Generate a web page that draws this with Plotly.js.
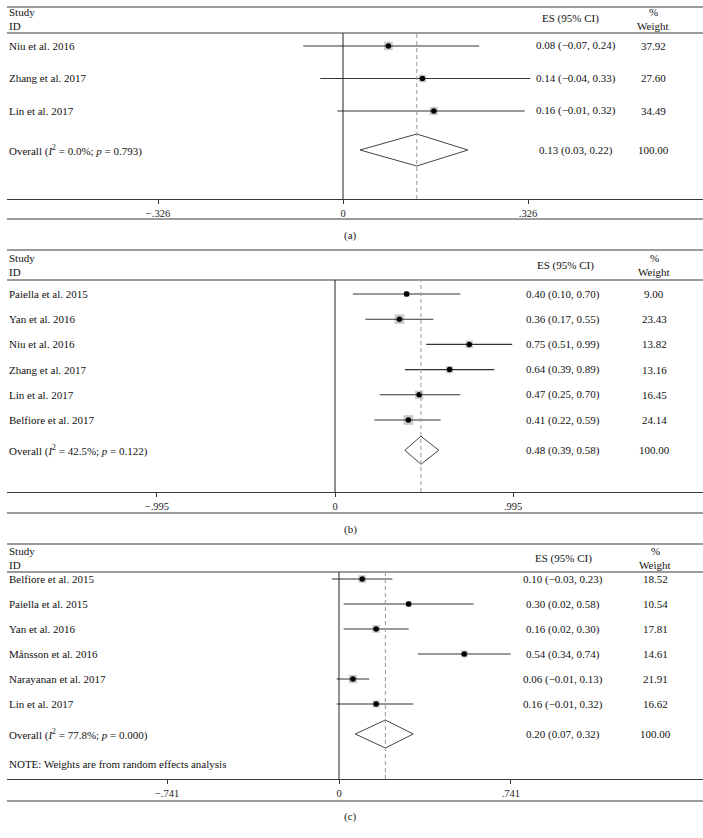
<!DOCTYPE html>
<html><head><meta charset="utf-8">
<script src="https://cdn.plot.ly/plotly-3.0.1.min.js"></script>
<style>html,body{margin:0;padding:0;background:#fff}#chart{width:703px;height:838px}</style>
</head><body><div id="chart"></div>
<script>
// ---------- DATA ----------
// Panel (a)
const studiesA = ['Niu et al. 2016', 'Zhang et al. 2017', 'Lin et al. 2017'];
const esA = [0.08, 0.14, 0.16];
const loA = [-0.07, -0.04, -0.01];
const hiA = [0.24, 0.33, 0.32];
const weightA = [37.92, 27.60, 34.49];
const overallA = [0.13, 0.03, 0.22];   // ES, lower, upper
const i2A = '0.0', pA = '0.793';
const tickValsA = [-0.326, 0, 0.326];
const tickTextA = ['\u2212.326', '0', '.326'];

// Panel (b)
const studiesB = ['Paiella et al. 2015', 'Yan et al. 2016', 'Niu et al. 2016', 'Zhang et al. 2017', 'Lin et al. 2017', 'Belfiore et al. 2017'];
const esB = [0.40, 0.36, 0.75, 0.64, 0.47, 0.41];
const loB = [0.10, 0.17, 0.51, 0.39, 0.25, 0.22];
const hiB = [0.70, 0.55, 0.99, 0.89, 0.70, 0.59];
const weightB = [9.00, 23.43, 13.82, 13.16, 16.45, 24.14];
const overallB = [0.48, 0.39, 0.58];
const i2B = '42.5', pB = '0.122';
const tickValsB = [-0.995, 0, 0.995];
const tickTextB = ['\u2212.995', '0', '.995'];

// Panel (c)
const studiesC = ['Belfiore et al. 2015', 'Paiella et al. 2015', 'Yan et al. 2016', 'M\u00e5nsson et al. 2016', 'Narayanan et al. 2017', 'Lin et al. 2017'];
const esC = [0.10, 0.30, 0.16, 0.54, 0.06, 0.16];
const loC = [-0.03, 0.02, 0.02, 0.34, -0.01, -0.01];
const hiC = [0.23, 0.58, 0.30, 0.74, 0.13, 0.32];
const weightC = [18.52, 10.54, 17.81, 14.61, 21.91, 16.62];
const overallC = [0.20, 0.07, 0.32];
const i2C = '77.8', pC = '0.000';
const tickValsC = [-0.741, 0, 0.741];
const tickTextC = ['\u2212.741', '0', '.741'];

const overallWeight = 100.00;
const noteC = 'NOTE: Weights are from random effects analysis';

// ---------- LAYOUT ----------
const W = 703, H = 838;
const FONT = 'Liberation Serif, Times New Roman, serif';
const LINE = '#3a3a3a';
const PX = x => x / W;
const PY = y => 1 - y / H;
const fmt = v => (v < 0 ? '\u2212' : '') + Math.abs(v).toFixed(2);

const panels = [
  {studies: studiesA, es: esA, lo: loA, hi: hiA, w: weightA, ov: overallA, i2: i2A, p: pA, tv: tickValsA, tt: tickTextA, label: '(a)',
   g: {top: 7, header: 33, axis: 199, bottom: 219, label: 235, row0: 46, step: 32.5, zero: 343, scale: 567.5, study: 12, id: 26, esX: 576, esHX: 570, wX: 653, dh: 16, sq: 1.4}},
  {studies: studiesB, es: esB, lo: loB, hi: hiB, w: weightB, ov: overallB, i2: i2B, p: pB, tv: tickValsB, tt: tickTextB, label: '(b)',
   g: {top: 250, header: 280, axis: 492, bottom: 513, label: 529, row0: 294, step: 25.2, zero: 335, scale: 179, study: 258, id: 272, esX: 563, esHX: 565, wX: 654, dh: 14, sq: 2.0}},
  {studies: studiesC, es: esC, lo: loC, hi: hiC, w: weightC, ov: overallC, i2: i2C, p: pC, tv: tickValsC, tt: tickTextC, label: '(c)', note: noteC,
   g: {top: 544, header: 572, axis: 779, bottom: 801, label: 816, row0: 579, step: 25, zero: 339, scale: 232, study: 551, id: 565, esX: 563, esHX: 563, wX: 655, dh: 14, sq: 1.8, noteY: 764}}
];

const traces = [], shapes = [], annotations = [];
const layout = {
  width: W, height: H, margin: {l: 0, r: 0, t: 0, b: 0, pad: 0},
  paper_bgcolor: '#fff', plot_bgcolor: 'rgba(0,0,0,0)', showlegend: false,
  font: {family: FONT, size: 11, color: '#111'}
};

const txt = (text, x, y, xref, yref, xanchor, extra) => Object.assign({
  text, x, y, xref, yref, xanchor, yanchor: 'middle', showarrow: false,
  font: {family: FONT, size: 11, color: '#111'}
}, extra || {});

panels.forEach((pn, k) => {
  const s = k === 0 ? '' : String(k + 1);
  const xa = 'x' + s, ya = 'y' + s;
  const g = pn.g;
  const n = pn.studies.length;
  const rows = pn.studies.map((_, i) => i);
  const ovRow = n + 0.2;

  layout['xaxis' + s] = {
    domain: [PX(7), 1], anchor: ya,
    range: [(7 - g.zero) / g.scale, (W - g.zero) / g.scale],
    showgrid: false, zeroline: false, showline: true, linecolor: LINE, linewidth: 1.2,
    ticks: 'outside', ticklen: 4, tickwidth: 1, tickcolor: LINE,
    tickmode: 'array', tickvals: pn.tv, ticktext: pn.tt,
    tickfont: {family: FONT, size: 10.5, color: '#222'}, fixedrange: true
  };
  layout['yaxis' + s] = {
    domain: [PY(g.axis), PY(g.header)], anchor: xa,
    range: [(g.axis - g.row0) / g.step, (g.header - g.row0) / g.step],
    visible: false, fixedrange: true
  };

  // weight squares
  traces.push({
    type: 'scatter', mode: 'markers', xaxis: xa, yaxis: ya,
    x: pn.es, y: rows,
    marker: {symbol: 'square', size: pn.w.map(v => Math.sqrt(v) * g.sq), color: '#b5b5b5', line: {width: 0}},
    hoverinfo: 'skip'
  });
  // CI lines + point estimates
  traces.push({
    type: 'scatter', mode: 'markers', xaxis: xa, yaxis: ya,
    x: pn.es, y: rows,
    error_x: {type: 'data', symmetric: false,
      array: pn.hi.map((h, i) => h - pn.es[i]),
      arrayminus: pn.lo.map((l, i) => pn.es[i] - l),
      width: 0, thickness: 1.1, color: '#333'},
    marker: {symbol: 'circle', size: 5.5, color: '#000'},
    hoverinfo: 'skip'
  });
  // overall diamond
  const dh = g.dh / g.step;
  traces.push({
    type: 'scatter', mode: 'lines', xaxis: xa, yaxis: ya,
    x: [pn.ov[1], pn.ov[0], pn.ov[2], pn.ov[0], pn.ov[1]],
    y: [ovRow, ovRow - dh, ovRow, ovRow + dh, ovRow],
    line: {color: '#444', width: 1}, hoverinfo: 'skip'
  });

  // horizontal rules
  [g.top, g.header, g.bottom].forEach(yy => shapes.push({
    type: 'line', xref: 'paper', yref: 'paper', x0: PX(7), x1: 1, y0: PY(yy), y1: PY(yy),
    line: {color: LINE, width: 1.2}
  }));
  // zero line
  shapes.push({type: 'line', xref: xa, yref: ya + ' domain', x0: 0, x1: 0, y0: 0, y1: 1,
    line: {color: '#222', width: 1}});
  // overall dashed line
  shapes.push({type: 'line', xref: xa, yref: ya + ' domain', x0: pn.ov[0], x1: pn.ov[0], y0: 0, y1: 1,
    line: {color: '#999', width: 1, dash: '4px,3px'}});

  // headers
  annotations.push(txt('Study', PX(7), PY(g.study), 'paper', 'paper', 'left'));
  annotations.push(txt('ID', PX(7), PY(g.id), 'paper', 'paper', 'left'));
  annotations.push(txt('ES (95% CI)', PX(g.esHX), PY((g.study + g.id) / 2), 'paper', 'paper', 'center'));
  annotations.push(txt('%', PX(g.wX), PY(g.study), 'paper', 'paper', 'center'));
  annotations.push(txt('Weight', PX(g.wX), PY(g.id), 'paper', 'paper', 'center'));

  // study rows
  pn.studies.forEach((name, i) => {
    annotations.push(txt(name, PX(7), i, 'paper', ya, 'left'));
    annotations.push(txt(fmt(pn.es[i]) + ' (' + fmt(pn.lo[i]) + ', ' + fmt(pn.hi[i]) + ')', PX(g.esX), i, 'paper', ya, 'center'));
    annotations.push(txt(pn.w[i].toFixed(2), PX(g.wX), i, 'paper', ya, 'center'));
  });
  // overall row
  annotations.push(txt('Overall (<i>I</i><sup>2</sup> = ' + pn.i2 + '%; <i>p</i> = ' + pn.p + ')', PX(7), ovRow, 'paper', ya, 'left'));
  annotations.push(txt(fmt(pn.ov[0]) + ' (' + fmt(pn.ov[1]) + ', ' + fmt(pn.ov[2]) + ')', PX(g.esX), ovRow, 'paper', ya, 'center'));
  annotations.push(txt(overallWeight.toFixed(2), PX(g.wX), ovRow, 'paper', ya, 'center'));

  if (pn.note) annotations.push(txt(pn.note, PX(7), PY(g.noteY), 'paper', 'paper', 'left'));

  // panel label
  annotations.push(txt(pn.label, PX(350), PY(g.label), 'paper', 'paper', 'center', {font: {family: FONT, size: 11, color: '#222'}}));
});

layout.shapes = shapes;
layout.annotations = annotations;

Plotly.newPlot('chart', traces, layout, {displayModeBar: false, staticPlot: true});
</script></body></html>
